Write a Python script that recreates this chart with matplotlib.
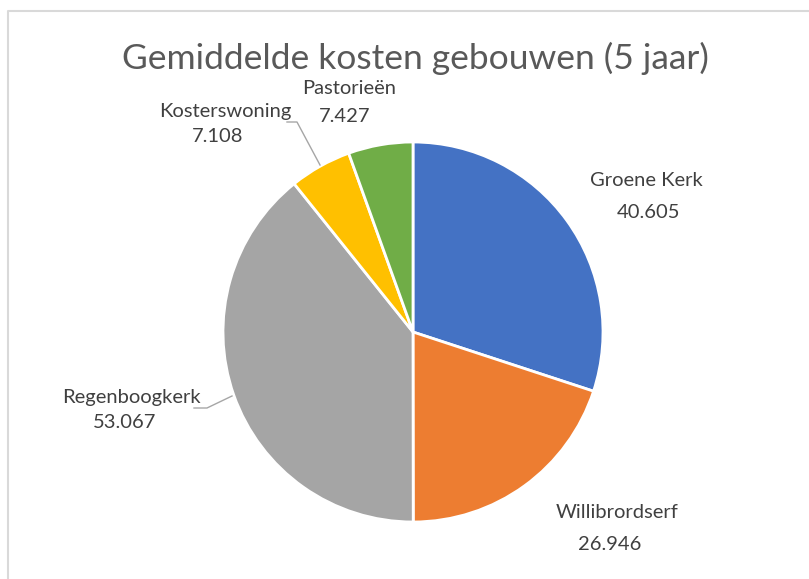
import matplotlib.pyplot as plt

# Data
labels = ['Groene Kerk', 'Willibrordserf', 'Regenboogkerk', 'Kosterswoning', 'Pastorieën']
values = [40.605, 26.946, 53.067, 7.108, 7.427]
value_labels = ['40.605', '26.946', '53.067', '7.108', '7.427']
colors = ['#4472C4', '#ED7D31', '#A5A5A5', '#FFC000', '#70AD47']

W, H = 809, 579
plt.rcParams['font.family'] = ['Lato', 'DejaVu Sans']

fig = plt.figure(figsize=(W / 100, H / 100), dpi=100)
ax = fig.add_axes([0, 0, 1, 1])

# chart frame
ax.plot([8, 8, W + 5], [-5, H - 11, H - 11], color='#D9D9D9', lw=1.5, clip_on=False)

cx, cy, r = 413, H - 332, 190
ax.pie(values, colors=colors, startangle=90, counterclock=False,
       center=(cx, cy), radius=r, frame=True,
       wedgeprops=dict(edgecolor='white', linewidth=2))
ax.set_xlim(0, W)
ax.set_ylim(0, H)
ax.set_aspect('equal')
ax.axis('off')

# label positions (name centre, value centre) in pixel coords from top
label_pos = [
    ((646, 180), (649, 212)),
    ((617, 512), (610, 545)),
    ((131, 398), (125, 423)),
    ((225, 112), (218, 136)),
    ((349, 88), (345, 117)),
]
txt_color = '#404040'
for name, val, (p1, p2) in zip(labels, value_labels, label_pos):
    ax.text(p1[0], H - p1[1], name, ha='center', va='center', fontsize=14.5, color=txt_color)
    ax.text(p2[0], H - p2[1], val, ha='center', va='center', fontsize=14.5, color=txt_color)

# leader lines
lc = '#A6A6A6'
ax.plot([287, 297, 320], [H - 122, H - 122, H - 165], color=lc, lw=1)
ax.plot([194, 207, 232], [H - 408, H - 408, H - 396], color=lc, lw=1)

ax.text(415, H - 58, 'Gemiddelde kosten gebouwen (5 jaar)', ha='center', va='center',
        fontsize=25.5, color='#595959')

fig.savefig('out.png', dpi=100)
